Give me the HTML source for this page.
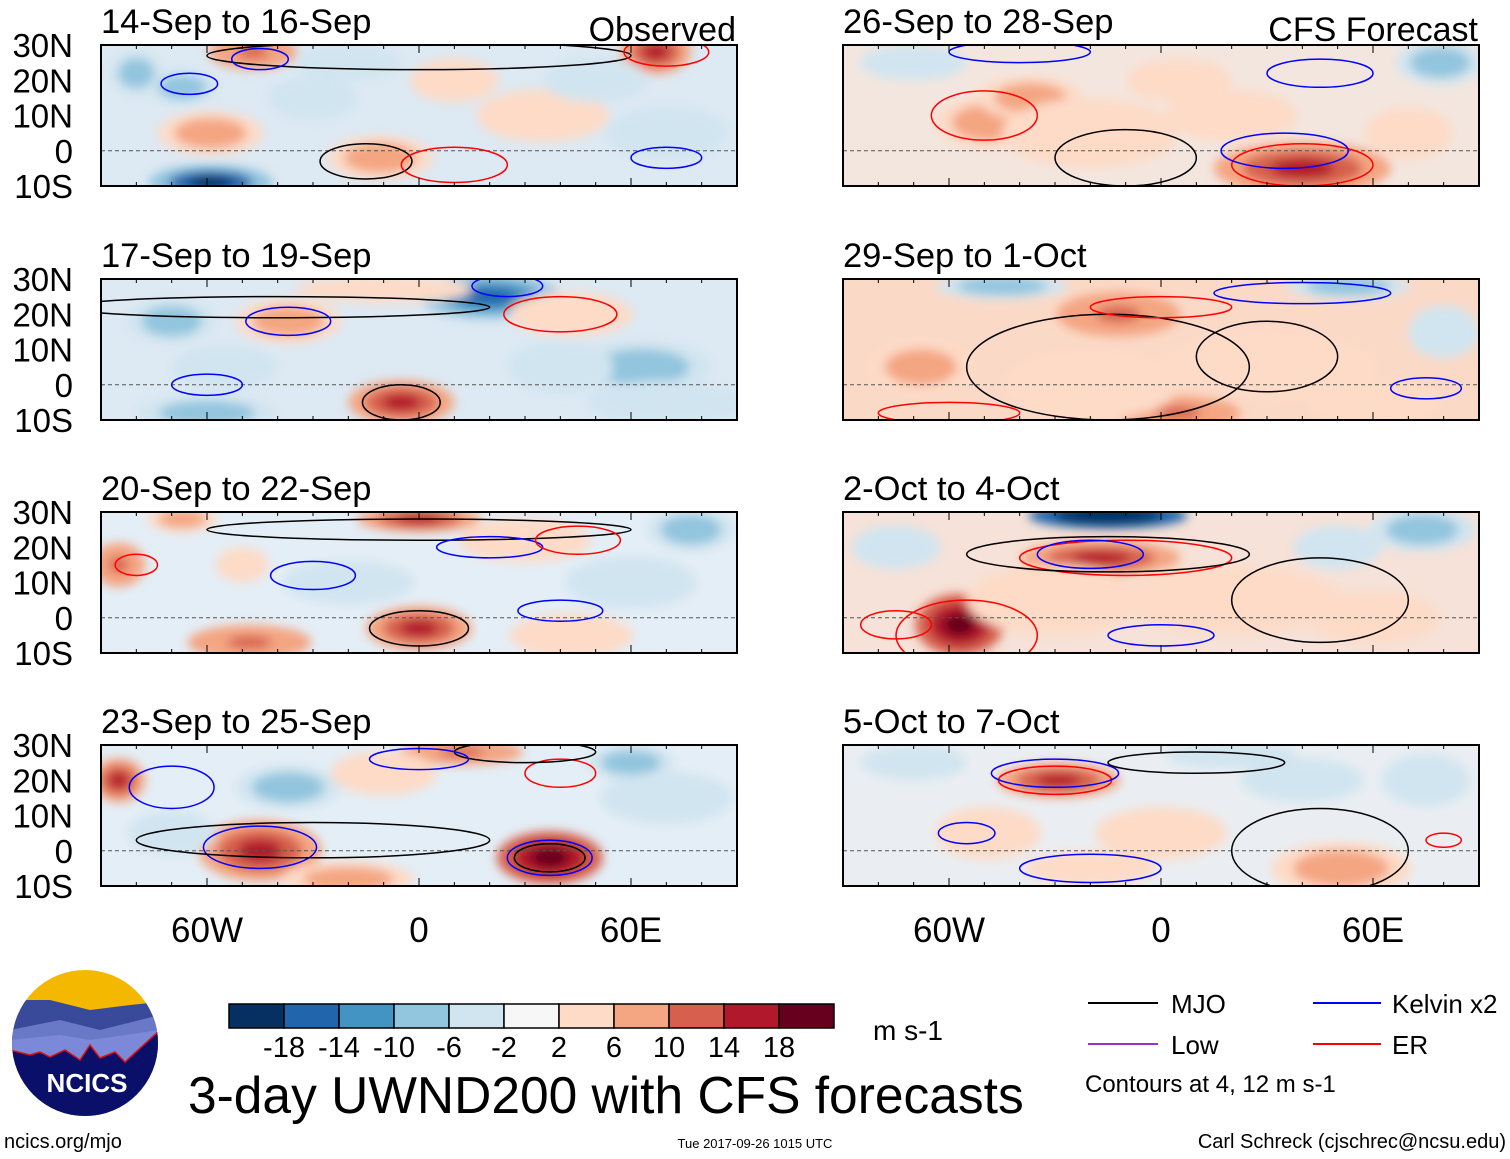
<!DOCTYPE html>
<html><head><meta charset="utf-8">
<style>
html,body{margin:0;padding:0;background:#fff;}
body{width:1510px;height:1159px;overflow:hidden;font-family:"Liberation Sans",sans-serif;}
svg{display:block;}
</style></head>
<body>
<svg id="chart" width="1510" height="1159" viewBox="0 0 1510 1159" xmlns="http://www.w3.org/2000/svg">
<defs>
<filter id="blur" x="-50%" y="-50%" width="200%" height="200%"><feGaussianBlur stdDeviation="5"/></filter>
</defs>
<g id="panels"></g>
<g id="colorbar"></g>
<text x="873" y="1040" font-size="28">m s-1</text>
<text x="188" y="1113" font-size="51.5">3-day UWND200 with CFS forecasts</text>
<g>
<line x1="1088" y1="1003" x2="1158" y2="1003" stroke="#000" stroke-width="2"/>
<text x="1171" y="1013" font-size="26">MJO</text>
<line x1="1313" y1="1003" x2="1381" y2="1003" stroke="#0000ff" stroke-width="2"/>
<text x="1392" y="1013" font-size="26">Kelvin x2</text>
<line x1="1088" y1="1044" x2="1158" y2="1044" stroke="#9932cc" stroke-width="2"/>
<text x="1171" y="1054" font-size="26">Low</text>
<line x1="1313" y1="1044" x2="1381" y2="1044" stroke="#ff0000" stroke-width="2"/>
<text x="1392" y="1054" font-size="26">ER</text>
<text x="1085" y="1092" font-size="24">Contours at 4, 12 m s-1</text>
</g>
<g>
<clipPath id="logoclip"><circle cx="85" cy="1043" r="73"/></clipPath>
<g clip-path="url(#logoclip)">
<rect x="10" y="968" width="150" height="150" fill="#f5b800"/>
<path d="M10,1000 L50,1000 L90,1010 L130,1005 L160,1002 L160,1118 L10,1118Z" fill="#3a4a9a"/>
<path d="M10,1030 L60,1020 L100,1030 L160,1015 L160,1118 L10,1118Z" fill="#6a78c8"/>
<path d="M10,1040 L60,1035 L90,1040 L160,1030 L160,1118 L10,1118Z" fill="#7c88d8"/>
<path d="M10,1050 L30,1055 L40,1052 L50,1057 L65,1050 L80,1060 L90,1045 L100,1058 L115,1052 L125,1062 L160,1030 L160,1118 L10,1118Z" fill="#0a0f6a" stroke="#e01010" stroke-width="1.5"/>
</g>
<text x="87" y="1092" font-size="26" font-weight="bold" fill="#fff" text-anchor="middle">NCICS</text>
</g>
<text x="4" y="1148" font-size="20">ncics.org/mjo</text>
<text x="755" y="1148" font-size="13" text-anchor="middle">Tue 2017-09-26 1015 UTC</text>
<text x="1506" y="1148" font-size="20" text-anchor="end">Carl Schreck (cjschrec@ncsu.edu)</text>
</svg>
<script>
const levels = [-18,-14,-10,-6,-2,2,6,10,14,18];
const colors = ["#053061","#2166ac","#4393c3","#92c5de","#d1e5f0","#f7f7f7","#fddbc7","#f4a582","#d6604d","#b2182b","#67001f"];
const panelTitles = ["14-Sep to 16-Sep","17-Sep to 19-Sep","20-Sep to 22-Sep","23-Sep to 25-Sep","26-Sep to 28-Sep","29-Sep to 1-Oct","2-Oct to 4-Oct","5-Oct to 7-Oct"];
const panelBg = ["#dde9f3","#dde9f3","#e4eef6","#e4eef6","#f3e6df","#fbd9c7","#f6e2d8","#eaeef2"];
const latTicks = ["30N","20N","10N","0","10S"];
const lonTicks = ["60W","0","60E"];
const lonTickVals = [-60,0,60];
// blobs: [lon, lat, rxDeg, ryDeg, value]
const blobs0 = [[-47,28,10,4,10],[67,28,8,5,14],[-59,5,12,5,8],[-59,-9,14,4,-14],[-67,18,8,4,-8],[-11,-2,12,5,8],[35,10,15,6,4],[-30,15,10,5,-4],[70,5,14,6,-5],[10,20,10,5,5],[-80,22,6,5,-6],[50,20,12,5,-4],[-20,25,12,4,-4]];
const blobs1 = [[20,25,16,5,-12],[-37,18,12,5,8],[-5,-5,12,5,14],[-70,18,10,5,-8],[43,20,14,5,6],[63,5,16,6,-6],[70,-5,18,5,-5],[-60,-8,16,4,-6],[-10,27,20,3,6],[40,5,12,6,-4],[-55,5,12,5,-4]];
const blobs2 = [[0,28,14,3,12],[0,-3,12,5,12],[-48,-7,14,4,10],[-85,15,6,5,10],[77,25,10,5,-8],[-67,28,8,3,8],[43,-5,14,5,6],[-50,15,6,4,6],[60,10,15,6,-4],[-20,10,15,5,-3],[30,22,15,5,5]];
const blobs3 = [[-45,0,14,7,14],[37,-2,12,6,16],[-85,20,6,5,12],[12,28,14,3,10],[-37,18,12,5,-6],[-10,22,12,5,5],[70,15,15,6,-5],[-20,-8,15,4,8],[60,25,10,4,-6],[-70,5,10,5,-4]];
const blobs4 = [[40,-5,20,6,14],[-49,8,12,6,8],[-37,15,12,5,8],[79,25,10,5,-8],[5,20,12,5,4],[-20,5,20,8,5],[20,10,15,6,4],[-70,25,12,4,-5],[70,5,10,6,4]];
const blobs5 = [[5,-8,14,4,10],[-12,20,14,5,10],[-45,28,15,3,-8],[53,28,14,3,-6],[-68,5,12,6,8],[30,5,25,8,5],[-20,0,20,8,6],[60,-5,15,5,6],[80,15,8,6,-4]];
const blobs6 = [[-15,29,18,3,-20],[-17,17,18,4,12],[-57,-2,10,7,16],[74,25,12,5,-6],[20,5,25,8,5],[-30,5,20,8,5],[60,0,15,6,4],[-75,20,10,5,-4],[50,20,10,5,-3]];
const blobs7 = [[-29,20,14,4,12],[51,-5,16,6,8],[-49,5,12,6,6],[40,20,14,5,-4],[0,5,15,6,4],[-70,25,12,4,-5],[75,20,10,6,-5],[-20,-5,15,4,4],[20,27,15,3,-4]];
const allBlobs = [blobs0,blobs1,blobs2,blobs3,blobs4,blobs5,blobs6,blobs7];
// contours: [lon, lat, rxDeg, ryDeg, type] type: 0=MJO,1=Kelvin,2=ER
const cont0 = [[-15,-3,13,5,0],[0,27,60,4,0],[-65,19,8,3,1],[-45,26,8,3,1],[70,28,12,4,2],[70,-2,10,3,1],[10,-4,15,5,2]];
const cont1 = [[-5,-5,11,5,0],[-40,22,60,3,0],[-37,18,12,4,1],[40,20,16,5,2],[-60,0,10,3,1],[25,28,10,3,1]];
const cont2 = [[0,-3,14,5,0],[0,25,60,3,0],[-30,12,12,4,1],[20,20,15,3,1],[45,22,12,4,2],[40,2,12,3,1],[-80,15,6,3,2]];
const cont3 = [[-45,1,16,6,1],[37,-2,12,5,1],[37,-2,10,4,0],[-30,3,50,5,0],[-70,18,12,6,1],[40,22,10,4,2],[30,28,20,3,0],[0,26,14,3,1]];
const cont4 = [[-10,-2,20,8,0],[40,-4,20,6,2],[-50,10,15,7,2],[45,22,15,4,1],[-40,28,20,3,1],[35,0,18,5,1]];
const cont5 = [[-15,5,40,15,0],[0,22,20,3,2],[40,26,25,3,1],[30,8,20,10,0],[-60,-8,20,3,2],[75,-1,10,3,1]];
const cont6 = [[-55,-5,20,10,2],[-10,17,30,5,2],[-20,18,15,4,1],[45,5,25,12,0],[-15,18,40,5,0],[0,-5,15,3,1],[-75,-2,10,4,2]];
const cont7 = [[-30,20,16,4,2],[-30,22,18,4,1],[45,0,25,12,0],[-55,5,8,3,1],[80,3,5,2,2],[-20,-5,20,4,1],[10,25,25,3,0]];
const allCont = [cont0,cont1,cont2,cont3,cont4,cont5,cont6,cont7];

const NS="http://www.w3.org/2000/svg";
function colorFor(v){let i=0;while(i<levels.length&&v>levels[i])i++;return colors[i];}
function mk(tag,attrs,parent){const e=document.createElementNS(NS,tag);for(const k in attrs)e.setAttribute(k,attrs[k]);parent.appendChild(e);return e;}
const PW=636,PH=141;
const panelX=[101,843];
const panelY=[45,279,512,745];
const root=document.getElementById('panels');
for(let p=0;p<8;p++){
  const col=p<4?0:1,row=p%4;
  const x0=panelX[col],y0=panelY[row];
  const xs=lon=>x0+(lon+90)/180*PW;
  const ys=lat=>y0+(30-lat)/40*PH;
  const g=mk('g',{},root);
  
  
  const cp=mk('clipPath',{id:'cp'+p},g);
  mk('rect',{x:x0,y:y0,width:PW,height:PH},cp);
  const inner=mk('g',{'clip-path':'url(#cp'+p+')'},g);
  mk('rect',{x:x0,y:y0,width:PW,height:PH,fill:panelBg[p]},inner);
  const bg=mk('g',{filter:'url(#blur)'},inner);
  allBlobs[p].forEach((b,i)=>{
    const e=mk('ellipse',{cx:xs(b[0]),cy:ys(b[1]),rx:b[2]*1.25/180*PW,ry:b[3]*1.25/40*PH,fill:colorFor(b[4]*0.7)},bg);
    
    
    const e2=mk('ellipse',{cx:xs(b[0]),cy:ys(b[1]),rx:b[2]*0.85/180*PW,ry:b[3]*0.85/40*PH,fill:colorFor(b[4])},bg);
    
    
    if(Math.abs(b[4])>=10){
      const e3=mk('ellipse',{cx:xs(b[0]),cy:ys(b[1]),rx:b[2]*0.45/180*PW,ry:b[3]*0.45/40*PH,fill:colorFor(b[4]+4*Math.sign(b[4]))},bg);
      
      
    }
  });
  mk('line',{x1:x0,y1:ys(0),x2:x0+PW,y2:ys(0),stroke:'#555','stroke-dasharray':'4,3','stroke-width':1},inner);
  const ccol=['#000','#0000ff','#ff0000'];
  allCont[p].forEach(c=>{
    const e=mk('ellipse',{cx:xs(c[0]),cy:ys(c[1]),rx:c[2]/180*PW,ry:c[3]/40*PH,fill:'none',stroke:ccol[c[4]],'stroke-width':1.5},inner);
    
    
  });
  const fr=mk('rect',{x:x0,y:y0,width:PW,height:PH,fill:'none',stroke:'#000','stroke-width':2},g);
  
  
  for(let lon=-90;lon<=90;lon+=10){
    const l=lon%60===0?8:4;
    mk('line',{x1:xs(lon),y1:y0,x2:xs(lon),y2:y0+l,stroke:'#000'},g);
    mk('line',{x1:xs(lon),y1:y0+PH,x2:xs(lon),y2:y0+PH-l,stroke:'#000'},g);
  }
  const t=mk('text',{x:x0,y:y0-12,'font-size':34.5},g);
  t.textContent=panelTitles[p];
  
  
  if(p===0||p===4){
    const s=mk('text',{x:x0+PW-1,y:y0-4,'font-size':34},g);
    s.setAttribute('text-anchor','end');
    s.textContent=p===0?'Observed':'CFS Forecast';
    
    
  }
  if(col===0){
    latTicks.forEach((lt,i)=>{
      const tt=mk('text',{x:73,y:y0+i*PH/4+12,'font-size':33,'text-anchor':'end'},g);
      tt.textContent=lt;
      
      
    });
  }
  if(row===3){
    lonTicks.forEach((lt,i)=>{
      const tt=mk('text',{x:xs(lonTickVals[i]),y:942,'font-size':35,'text-anchor':'middle'},g);
      tt.textContent=lt;
      
      
    });
  }
}
const cb=document.getElementById('colorbar');
const cbx=229,cbw=55,cby=1004,cbh=24;
colors.forEach((c,i)=>{
  const r=mk('rect',{x:cbx+i*cbw,y:cby,width:cbw,height:cbh,fill:c,stroke:'#000','stroke-width':1.5},cb);
  
  
});
levels.forEach((lv,i)=>{
  const t=mk('text',{x:cbx+(i+1)*cbw,y:1057,'font-size':29,'text-anchor':'middle'},cb);
  t.textContent=lv;
  
  
});
</script>
</body></html>
